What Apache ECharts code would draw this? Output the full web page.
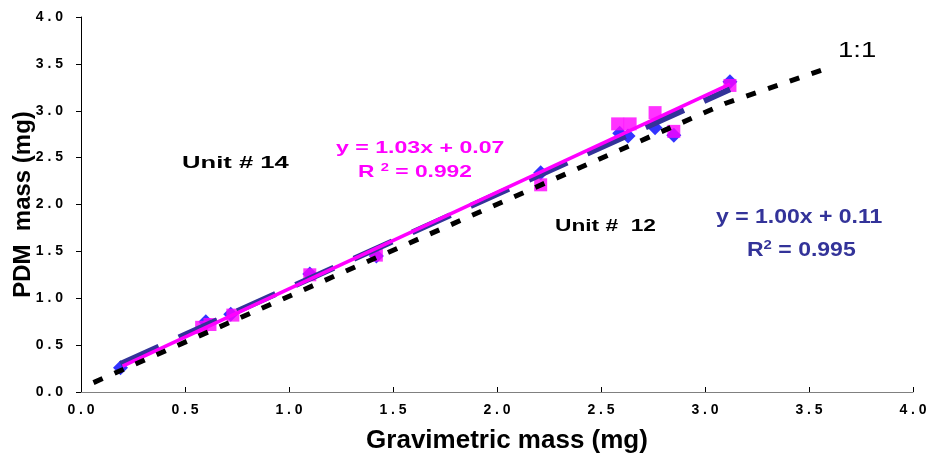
<!DOCTYPE html>
<html>
<head>
<meta charset="utf-8">
<script src="https://cdn.jsdelivr.net/npm/echarts@6/dist/echarts.min.js"></script>
<style>html,body{margin:0;padding:0;background:#fff}#c{width:932px;height:462px}</style>
</head>
<body>
<div id="c"></div>
<script>
// Unit #12 (blue diamonds)
var unit12X = [0.19, 0.60, 0.72, 1.10, 1.42, 2.21, 2.59, 2.63, 2.76, 2.85, 3.12];
var unit12Y = [0.26, 0.75, 0.83, 1.26, 1.45, 2.34, 2.76, 2.73, 2.82, 2.74, 3.31];
// Unit #14 (magenta squares)
var unit14X = [0.58, 0.62, 0.73, 1.10, 1.42, 2.21, 2.58, 2.64, 2.76, 2.85, 3.12];
var unit14Y = [0.69, 0.72, 0.82, 1.25, 1.46, 2.21, 2.86, 2.86, 2.98, 2.78, 3.27];
// Trendlines
var trend12 = {slope: 1.00, intercept: 0.11, xMin: 0.19, xMax: 3.12};
var trend14 = {slope: 1.03, intercept: 0.07, xMin: 0.2, xMax: 3.12};
// 1:1 reference line (as drawn)
var oneToOneX = [0.06, 3.1, 3.57];
var oneToOneY = [0.10, 3.08, 3.44];
var tickLabels = ['0.0','0.5','1.0','1.5','2.0','2.5','3.0','3.5','4.0'];

function pairs(xs, ys){ return xs.map(function(x,i){ return [x, ys[i]]; }); }
function trend(t){ return [[t.xMin, t.slope*t.xMin + t.intercept],[t.xMax, t.slope*t.xMax + t.intercept]]; }
function fmt(v){
  var i = Math.round(v*2);
  var s = tickLabels[i] !== undefined ? tickLabels[i] : v.toFixed(1);
  return s.split('').join(' ');
}

var chart = echarts.init(document.getElementById('c'), null, {renderer:'canvas'});
var font = 'Liberation Sans, Arial, sans-serif';
chart.setOption({
  animation: false,
  backgroundColor: '#ffffff',
  grid: {left: 81, right: 19, top: 17, bottom: 70, containLabel: false, outerBoundsMode: 'none'},
  xAxis: {
    type: 'value', min: 0, max: 4, interval: 0.5,
    name: 'Gravimetric mass (mg)', nameLocation: 'middle', nameGap: 36, nameMoveOverlap: false,
    nameTextStyle: {fontFamily: font, fontSize: 26, fontWeight: 'bold', color: '#000', padding: [0, 0, 0, 20]},
    axisLine: {show: true, lineStyle: {color: '#808080', width: 1}},
    axisTick: {show: true, inside: true, length: 5, lineStyle: {color: '#000'}},
    axisLabel: {formatter: fmt, fontFamily: font, fontSize: 14, fontWeight: 'bold', color: '#000', margin: 11},
    splitLine: {show: false}
  },
  yAxis: {
    type: 'value', min: 0, max: 4, interval: 0.5,
    name: 'PDM  mass (mg)', nameLocation: 'middle', nameGap: 46, nameRotate: 90, nameMoveOverlap: false,
    nameTextStyle: {fontFamily: font, fontSize: 24, fontWeight: 'bold', color: '#000'},
    axisLine: {show: true, lineStyle: {color: '#000', width: 1}},
    axisTick: {show: true, inside: false, length: 5, lineStyle: {color: '#000'}},
    axisLabel: {formatter: fmt, fontFamily: font, fontSize: 14, fontWeight: 'bold', color: '#000', margin: 18},
    splitLine: {show: false}
  },
  series: [
    {type: 'scatter', name: 'Unit #12', data: pairs(unit12X, unit12Y), symbol: 'diamond', symbolSize: [15, 15],
     itemStyle: {color: '#0000ff'}, z: 2},
    {type: 'scatter', name: 'Unit #14', data: pairs(unit14X, unit14Y), symbol: 'rect', symbolSize: 13,
     itemStyle: {color: '#ff00ff'}, z: 3},
    {type: 'line', data: trend(trend12), symbol: 'none', z: 4,
     lineStyle: {color: '#333399', width: 6, type: [42, 22]}},
    {type: 'line', data: trend(trend14), symbol: 'none', z: 5,
     lineStyle: {color: '#ff00ff', width: 3.5}},
    {type: 'line', data: pairs(oneToOneX, oneToOneY), symbol: 'none', z: 6,
     lineStyle: {color: '#000', width: 5, type: [10, 13]}}
  ],
  graphic: [
    {type: 'text', x: 182, y: 156, scaleX: 1.6, style: {text: 'Unit # 14', font: 'bold 16px ' + font, fill: '#000'}},
    {type: 'text', x: 555, y: 219, scaleX: 1.42, style: {text: 'Unit #  12', font: 'bold 16px ' + font, fill: '#000'}},
    {type: 'text', x: 336, y: 140, scaleX: 1.36, style: {text: 'y = 1.03x + 0.07', font: 'bold 17px ' + font, fill: '#ff00ff'}},
    {type: 'text', x: 358, y: 162, scaleX: 1.34, style: {
      text: 'R {s|2} = 0.992', font: 'bold 17px ' + font, fill: '#ff00ff',
      rich: {s: {fontSize: 11, fontWeight: 'bold', fontFamily: font, fill: '#ff00ff', verticalAlign: 'top', padding: [0,0,9,0]}}}},
    {type: 'text', x: 716, y: 207, scaleX: 1.15, style: {text: 'y = 1.00x + 0.11', font: 'bold 20px ' + font, fill: '#333399'}},
    {type: 'text', x: 747, y: 239, scaleX: 1.15, style: {
      text: 'R{s|2} = 0.995', font: 'bold 20px ' + font, fill: '#333399',
      rich: {s: {fontSize: 13, fontWeight: 'bold', fontFamily: font, fill: '#333399', verticalAlign: 'top', padding: [0,0,10,0]}}}},
    {type: 'text', x: 838, y: 40, scaleX: 1.25, style: {text: '1:1', font: '22px ' + font, fill: '#000'}}
  ]
});
</script>
</body>
</html>
